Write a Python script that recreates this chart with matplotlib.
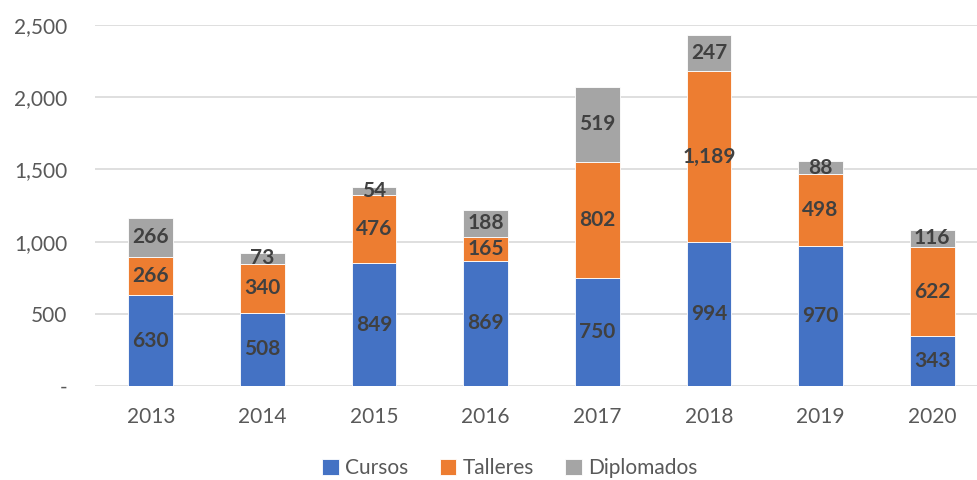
import matplotlib
matplotlib.use("Agg")
import matplotlib.pyplot as plt
import numpy as np
from matplotlib.ticker import FuncFormatter

years = ["2013", "2014", "2015", "2016", "2017", "2018", "2019", "2020"]
cursos = [630, 508, 849, 869, 750, 994, 970, 343]
talleres = [266, 340, 476, 165, 802, 1189, 498, 622]
diplomados = [266, 73, 54, 188, 519, 247, 88, 116]
series_names = ["Cursos", "Talleres", "Diplomados"]
colors = ["#4472C4", "#ED7D31", "#A5A5A5"]

plt.rcParams['font.family'] = ['Lato', 'DejaVu Sans']

fig = plt.figure(figsize=(9.77, 4.8), dpi=100)
ax = fig.add_axes([95/977, 1-386/480, 893/977, (386-25)/480])

x = np.arange(len(years))
w = 0.40
bottom = np.zeros(len(years))
for name, vals, c in zip(series_names, [cursos, talleres, diplomados], colors):
    vals = np.array(vals)
    ax.bar(x, vals, w, bottom=bottom, color=c, label=name,
           edgecolor="white", linewidth=0.6, zorder=3)
    for xi, b, v in zip(x, bottom, vals):
        ax.text(xi, b + v/2, f"{v:,}", ha="center", va="center",
                fontsize=15, fontweight="bold", color="#404040", zorder=4)
    bottom += vals

ax.set_ylim(0, 2500)
ax.set_xlim(-0.5, 7.5)
ax.set_yticks(np.arange(0, 2501, 500))
ax.yaxis.set_major_formatter(FuncFormatter(lambda v, p: "-" if v == 0 else f"{int(v):,}"))
ax.set_xticks(x)
ax.set_xticklabels(years)
ax.grid(axis="y", color="#D9D9D9", linewidth=1.2, zorder=0)
for s in ["top", "right", "left", "bottom"]:
    ax.spines[s].set_visible(False)
ax.tick_params(axis="both", length=0, labelsize=15, labelcolor="#595959")
ax.tick_params(axis="y", pad=20)
ax.tick_params(axis="x", pad=15)

handles, labels = ax.get_legend_handles_labels()
fig.legend(handles, labels, loc="center", bbox_to_anchor=(510/977, 1-468/480),
           ncol=3, frameon=False, fontsize=15, handlelength=0.8, handleheight=0.8,
           handletextpad=0.3, columnspacing=1.5, labelcolor="#595959")
fig.savefig("out.png", dpi=100)
